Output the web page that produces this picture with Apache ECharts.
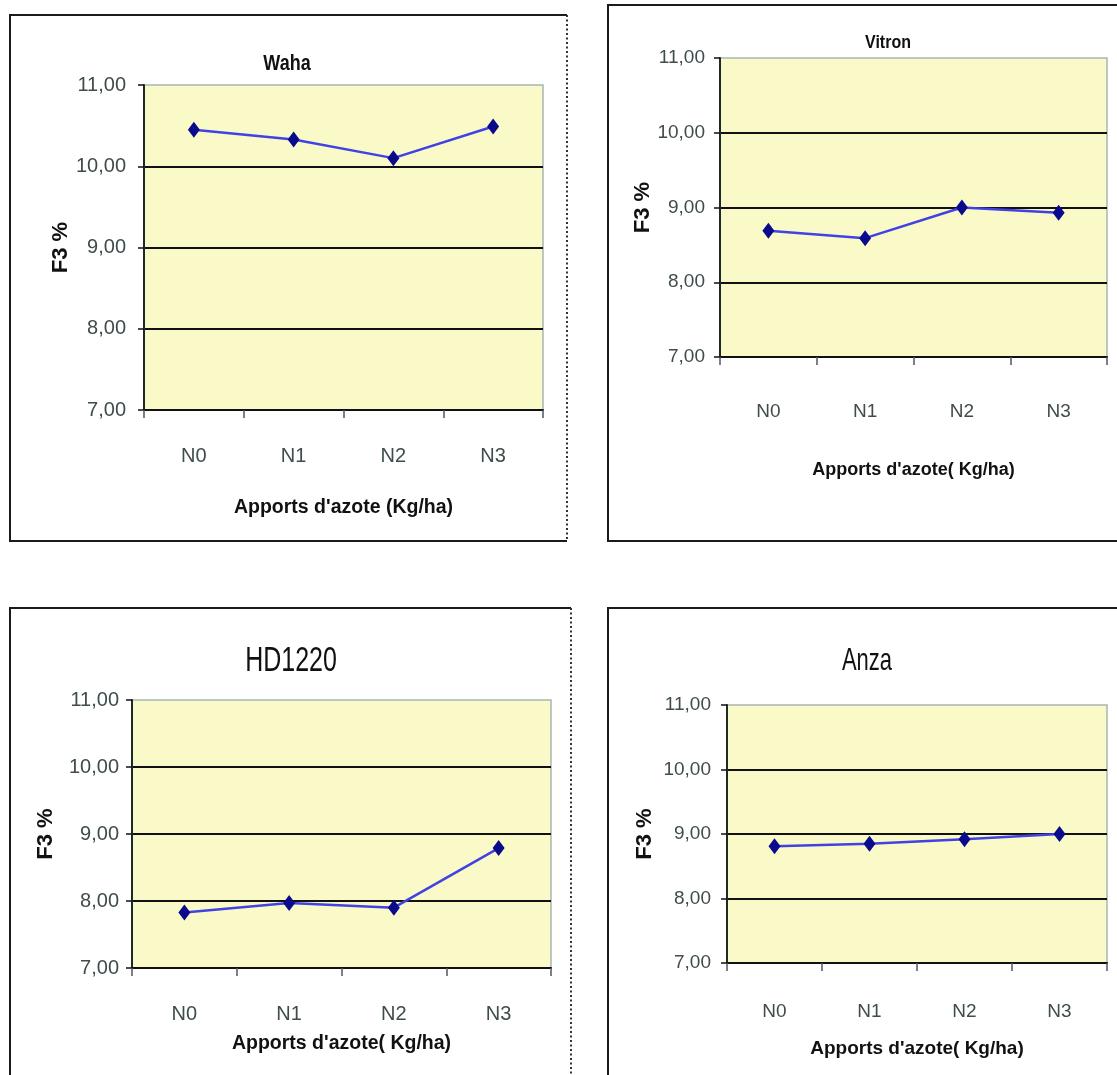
<!DOCTYPE html>
<html>
<head>
<meta charset="utf-8">
<style>
  html, body { margin: 0; padding: 0; background: #ffffff; }
  #chart { width: 1117px; height: 1075px; }
</style>
<script src="https://cdn.jsdelivr.net/npm/echarts@6/dist/echarts.min.js"></script>
</head>
<body>
<div id="chart"></div>
<script>
// Nitrogen application levels (categories shared by all four varieties)
const doses = ['N0', 'N1', 'N2', 'N3'];

// F3 fraction (%) per variety
const waha   = [10.45, 10.33, 10.10, 10.49];
const vitron = [8.69, 8.59, 9.00, 8.93];
const hd1220 = [7.83, 7.97, 7.90, 8.79];
const anza   = [8.81, 8.85, 8.92, 9.00];

const varieties = ['Waha', 'Vitron', 'HD1220', 'Anza'];
const xTitles = ["Apports d'azote (Kg/ha)", "Apports d'azote( Kg/ha)", "Apports d'azote( Kg/ha)", "Apports d'azote( Kg/ha)"];
const yTitle = 'F3 %';

// Value axis range
const yMin = 7, yMax = 11, yStep = 1;

const FONT = '"Liberation Sans", Arial, sans-serif';
const LABEL_GREY = '#3f4c4c';

// Layout of each panel: plot rectangle, frame, label offsets
const panels = [
  { grid: { left: 144, top: 85, width: 399, height: 325 },
    frame: { x1: 10, y1: 15, x2: 567, y2: 541, dotted: true },
    title: { x: 287, y: 64, size: 18, weight: 'bold', sy: 1.2 },
    yLabelMargin: 18, xLabelMargin: 36, xNameGap: 88, yNameGap: 69, tickSize: 20, xNameSize: 19.5 },
  { grid: { left: 720, top: 58, width: 387, height: 299 },
    frame: { x1: 608, y1: 5, x2: 1130, y2: 541, dotted: false },
    title: { x: 888, y: 43, size: 16, weight: 'bold', sy: 1.2 },
    yLabelMargin: 15, xLabelMargin: 45, xNameGap: 104, yNameGap: 57, tickSize: 19, xNameSize: 18 },
  { grid: { left: 132, top: 700, width: 419, height: 268 },
    frame: { x1: 10, y1: 608, x2: 571, y2: 1090, dotted: true },
    title: { x: 291, y: 661, size: 25, weight: 'normal', sy: 1.4 },
    yLabelMargin: 13, xLabelMargin: 36, xNameGap: 66, yNameGap: 75, tickSize: 20, xNameSize: 19.5 },
  { grid: { left: 727, top: 705, width: 380, height: 258 },
    frame: { x1: 608, y1: 608, x2: 1130, y2: 1090, dotted: false },
    title: { x: 867, y: 661, size: 22, weight: 'normal', sy: 1.45 },
    yLabelMargin: 16, xLabelMargin: 39, xNameGap: 76, yNameGap: 71, tickSize: 19, xNameSize: 19 }
];

const seriesData = [waha, vitron, hd1220, anza];

const grids = [], xAxes = [], yAxes = [], series = [], graphics = [];

panels.forEach((p, i) => {
  grids.push(Object.assign({
    show: true,
    backgroundColor: '#fafac8',
    borderColor: '#a9b6b4',
    borderWidth: 1.5,
    containLabel: false
  }, p.grid));

  xAxes.push({
    type: 'category',
    gridIndex: i,
    data: doses,
    boundaryGap: true,
    axisLine: { show: true, lineStyle: { color: '#111', width: 2 } },
    axisTick: { show: true, length: 8, lineStyle: { color: '#556', width: 1.5 } },
    axisLabel: { margin: p.xLabelMargin, fontSize: p.tickSize, color: LABEL_GREY, fontFamily: FONT },
    splitLine: { show: false },
    name: xTitles[i],
    nameLocation: 'middle',
    nameGap: p.xNameGap,
    nameTextStyle: { fontSize: p.xNameSize, fontWeight: 'bold', color: '#111', fontFamily: FONT }
  });

  yAxes.push({
    type: 'value',
    gridIndex: i,
    min: yMin,
    max: yMax,
    interval: yStep,
    axisLine: { show: true, lineStyle: { color: '#1c2a2a', width: 2 } },
    axisTick: { show: true, length: 6, lineStyle: { color: '#111', width: 1.5 } },
    axisLabel: {
      margin: p.yLabelMargin,
      fontSize: p.tickSize,
      color: LABEL_GREY,
      fontFamily: FONT,
      formatter: v => v.toFixed(2).replace('.', ',')
    },
    splitLine: { show: true, showMinLine: false, showMaxLine: false, lineStyle: { color: '#111', width: 2 } },
    name: yTitle,
    nameLocation: 'middle',
    nameGap: p.yNameGap,
    nameTextStyle: { fontSize: 22, fontWeight: 'bold', color: '#111', fontFamily: FONT }
  });

  series.push({
    type: 'line',
    name: varieties[i],
    xAxisIndex: i,
    yAxisIndex: i,
    data: seriesData[i],
    symbol: 'diamond',
    symbolSize: [12, 16],
    lineStyle: { color: '#4042e4', width: 2.5 },
    itemStyle: { color: '#0a0a8c' },
    z: 5
  });

  // panel frame: solid top, left and bottom edges; dotted right edge on the left column
  const f = p.frame;
  graphics.push({ type: 'polyline', silent: true, z: 10,
    shape: { points: [[f.x2, f.y1], [f.x1, f.y1], [f.x1, f.y2], [f.x2, f.y2]] },
    style: { fill: null, stroke: '#1b1b1b', lineWidth: 2 } });
  if (f.dotted) {
    graphics.push({ type: 'line', silent: true, z: 10,
      shape: { x1: f.x2, y1: f.y1, x2: f.x2, y2: f.y2 },
      style: { stroke: '#333', lineWidth: 2, lineDash: [2, 2.5] } });
  }

  // variety name above each plot, drawn slightly condensed
  graphics.push({ type: 'text', silent: true, z: 10,
    x: p.title.x, y: p.title.y, scaleY: p.title.sy,
    style: { text: varieties[i], fill: '#111', font: p.title.weight + ' ' + p.title.size + 'px ' + FONT,
      textAlign: 'center', textVerticalAlign: 'middle' } });
});

const chart = echarts.init(document.getElementById('chart'), null, { renderer: 'canvas' });
chart.setOption({
  animation: false,
  backgroundColor: '#ffffff',
  grid: grids,
  xAxis: xAxes,
  yAxis: yAxes,
  series: series,
  graphic: graphics
});
</script>
</body>
</html>
